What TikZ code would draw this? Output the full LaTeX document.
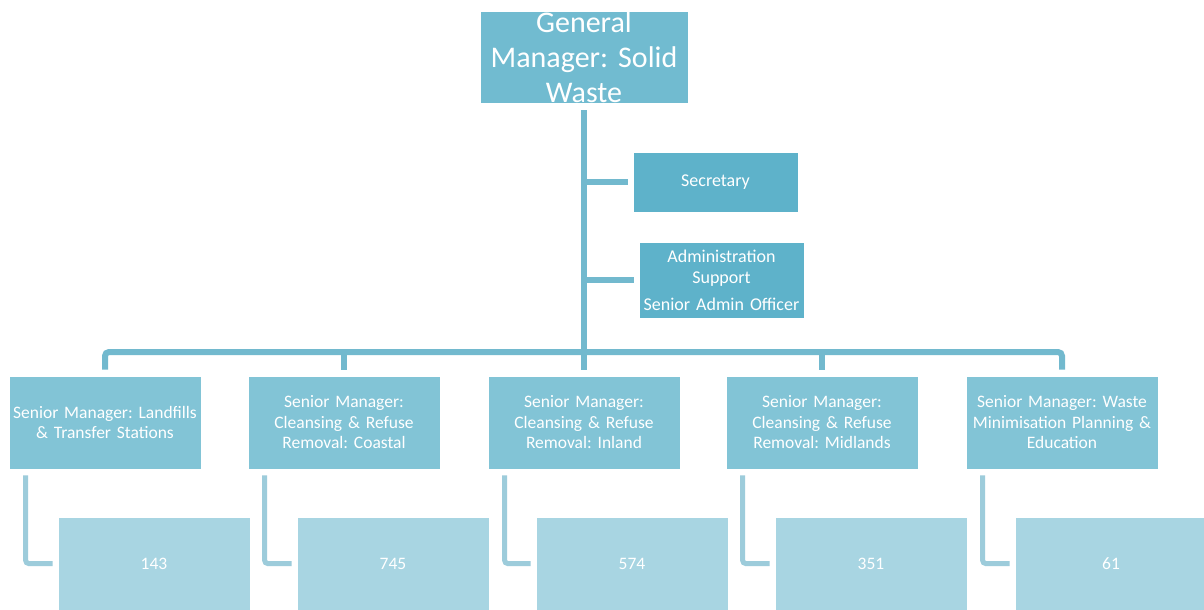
\documentclass[tikz,border=0pt]{standalone}
\usepackage{fontspec}
\setmainfont{Carlito}
\usetikzlibrary{calc}
\definecolor{topfill}{HTML}{71BBD0}
\definecolor{sidefill}{HTML}{5EB2CA}
\definecolor{midfill}{HTML}{82C4D6}
\definecolor{lowfill}{HTML}{A8D5E2}
\definecolor{busline}{HTML}{72B9CE}
\definecolor{elbowline}{HTML}{9DCCDB}
\tikzset{
  box/.style={draw=white, line width=0.6pt, inner sep=0pt, align=center, text=white},
  gmbox/.style={box, fill=topfill, minimum width=208pt, minimum height=92pt, text width=206pt,
                font=\fontsize{30}{35}\selectfont},
  sidebox/.style={box, fill=sidefill, minimum width=165pt, text width=163pt,
                  font=\fontsize{18}{21}\selectfont},
  midbox/.style={box, fill=midfill, minimum width=192pt, minimum height=93pt, text width=192pt,
                 font=\fontsize{17.5}{20.5}\selectfont},
  lowbox/.style={box, fill=lowfill, minimum width=192pt, minimum height=93pt,
                 font=\fontsize{17.5}{20}\selectfont},
  bus/.style={draw=busline, line width=6pt, rounded corners=4pt},
  elbow/.style={draw=elbowline, line width=5pt, rounded corners=3pt, shorten >=5pt}
}
\begin{document}
\frenchspacing
\begin{tikzpicture}[x=1pt, y=-1pt]
  \clip (0,0) rectangle (1204,610);
  \fill[white] (0,0) rectangle (1204,610);

  % top of the chart
  \node[gmbox] (gm) at (584,57) {General\\Manager: Solid\\Waste};
  \node[sidebox, minimum height=60pt] (sec) at (715.5,182) {Secretary};
  \node[sidebox, minimum height=76pt] (adm) at (721.5,280)
    {Administration\\Support\\[6pt]Senior Admin Officer};

  % senior managers
  \node[midbox] (m1) at (105,422.5) {Senior Manager: Landfills\\\& Transfer Stations};
  \node[midbox] (m2) at (344,422.5) {Senior Manager:\\Cleansing \& Refuse\\Removal: Coastal};
  \node[midbox] (m3) at (584,422.5) {Senior Manager:\\Cleansing \& Refuse\\Removal: Inland};
  \node[midbox] (m4) at (822,422.5) {Senior Manager:\\Cleansing \& Refuse\\Removal: Midlands};
  \node[midbox] (m5) at (1062,422.5) {Senior Manager: Waste\\Minimisation Planning \&\\Education};

  % staff numbers
  \node[lowbox] (b1) at (154,563.5) {143};
  \node[lowbox] (b2) at (393,563.5) {745};
  \node[lowbox] (b3) at (632,563.5) {574};
  \node[lowbox] (b4) at (871,563.5) {351};
  \node[lowbox] (b5) at (1111,563.5) {61};

  % main trunk and horizontal bus
  \coordinate (busmid) at (584,352);
  \draw[bus] ($(gm.south)+(0,7)$) -- ($(m3.north)+(0,-6)$);
  \draw[bus] ($(m1.north)+(0,-6)$) |- (busmid) -| ($(m5.north)+(0,-6)$);
  \draw[bus] ($(m2.north)+(0,-6)$) -- (m2.north |- busmid);
  \draw[bus] ($(m4.north)+(0,-6)$) -- (m4.north |- busmid);

  % side branches
  \draw[bus, shorten >=5pt] (sec.west -| busmid) -- (sec.west);
  \draw[bus, shorten >=5pt] (adm.west -| busmid) -- (adm.west);

  % elbows down to the staff numbers
  \foreach \i in {1,...,5}{
    \draw[elbow] ($(m\i.south west)+(17,6)$) |- (b\i.west);
  }
\end{tikzpicture}
\end{document}
